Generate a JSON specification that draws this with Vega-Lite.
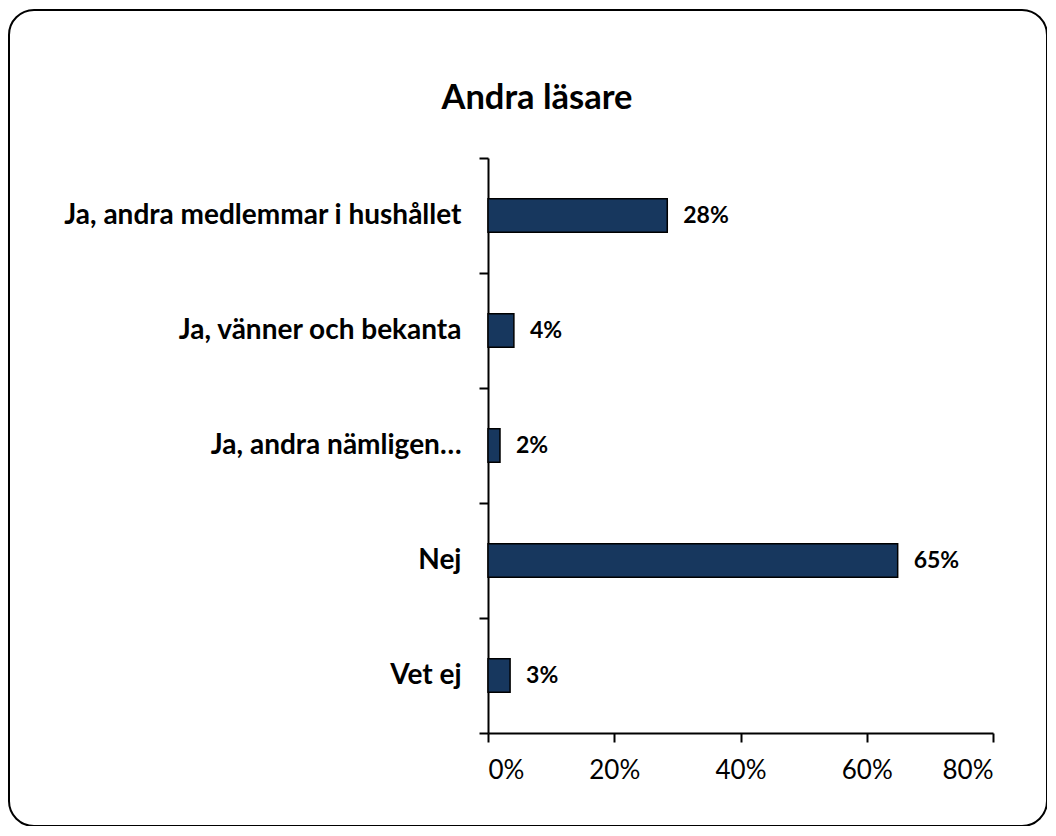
{
  "$schema": "https://vega.github.io/schema/vega-lite/v6.json",
  "autosize": "none",
  "padding": {"left": 9, "top": 10, "right": 0, "bottom": 0},
  "width": 1038,
  "height": 816,
  "background": "white",
  "title": {
    "text": "Andra läsare",
    "font": "Lato",
    "fontSize": 34.5,
    "fontWeight": "bold",
    "color": "#000000",
    "anchor": "middle",
    "frame": "group",
    "baseline": "alphabetic",
    "offset": 0,
    "dx": 9,
    "dy": 147
  },
  "data": {
    "values": [
      {"kategori": "Ja, andra medlemmar i hushållet", "andel": 28.4, "etikett": "28%"},
      {"kategori": "Ja, vänner och bekanta", "andel": 4.1, "etikett": "4%"},
      {"kategori": "Ja, andra nämligen…", "andel": 1.9, "etikett": "2%"},
      {"kategori": "Nej", "andel": 64.9, "etikett": "65%"},
      {"kategori": "Vet ej", "andel": 3.5, "etikett": "3%"}
    ]
  },
  "encoding": {
    "y": {
      "field": "kategori",
      "type": "nominal",
      "sort": null,
      "scale": {"range": [148, 723], "paddingInner": 0, "paddingOuter": 0},
      "axis": {
        "title": null,
        "orient": "left",
        "offset": -479,
        "domain": true,
        "domainColor": "#000000",
        "domainWidth": 2,
        "ticks": true,
        "tickBand": "extent",
        "tickSize": 9,
        "tickColor": "#000000",
        "tickWidth": 2,
        "labelFont": "Lato",
        "labelFontSize": 28,
        "labelFontWeight": "bold",
        "labelColor": "#000000",
        "labelPadding": 18,
        "labelLimit": 600,
        "grid": false
      }
    },
    "x": {
      "field": "andel",
      "type": "quantitative",
      "scale": {"domain": [0, 80], "range": [479, 984], "nice": false, "zero": true},
      "axis": {
        "title": null,
        "orient": "bottom",
        "offset": -93,
        "values": [0, 20, 40, 60, 80],
        "labelExpr": "datum.value + '%'",
        "domain": true,
        "domainColor": "#000000",
        "domainWidth": 2,
        "ticks": true,
        "tickSize": 9,
        "tickColor": "#000000",
        "tickWidth": 2,
        "labelFont": "Lato",
        "labelFontSize": 26,
        "labelColor": "#000000",
        "labelPadding": 15,
        "grid": false
      }
    }
  },
  "layer": [
    {
      "mark": {
        "type": "bar",
        "color": "#17375E",
        "stroke": "#000000",
        "strokeWidth": 1.5,
        "height": {"band": 0.29}
      }
    },
    {
      "mark": {
        "type": "text",
        "align": "left",
        "baseline": "middle",
        "dx": 16,
        "font": "Lato",
        "fontSize": 23,
        "fontWeight": "bold",
        "color": "#000000"
      },
      "encoding": {
        "text": {"field": "etikett"}
      }
    }
  ],
  "config": {
    "font": "Lato",
    "view": {
      "stroke": "#000000",
      "strokeWidth": 2,
      "cornerRadius": 25,
      "fill": "white"
    }
  }
}
